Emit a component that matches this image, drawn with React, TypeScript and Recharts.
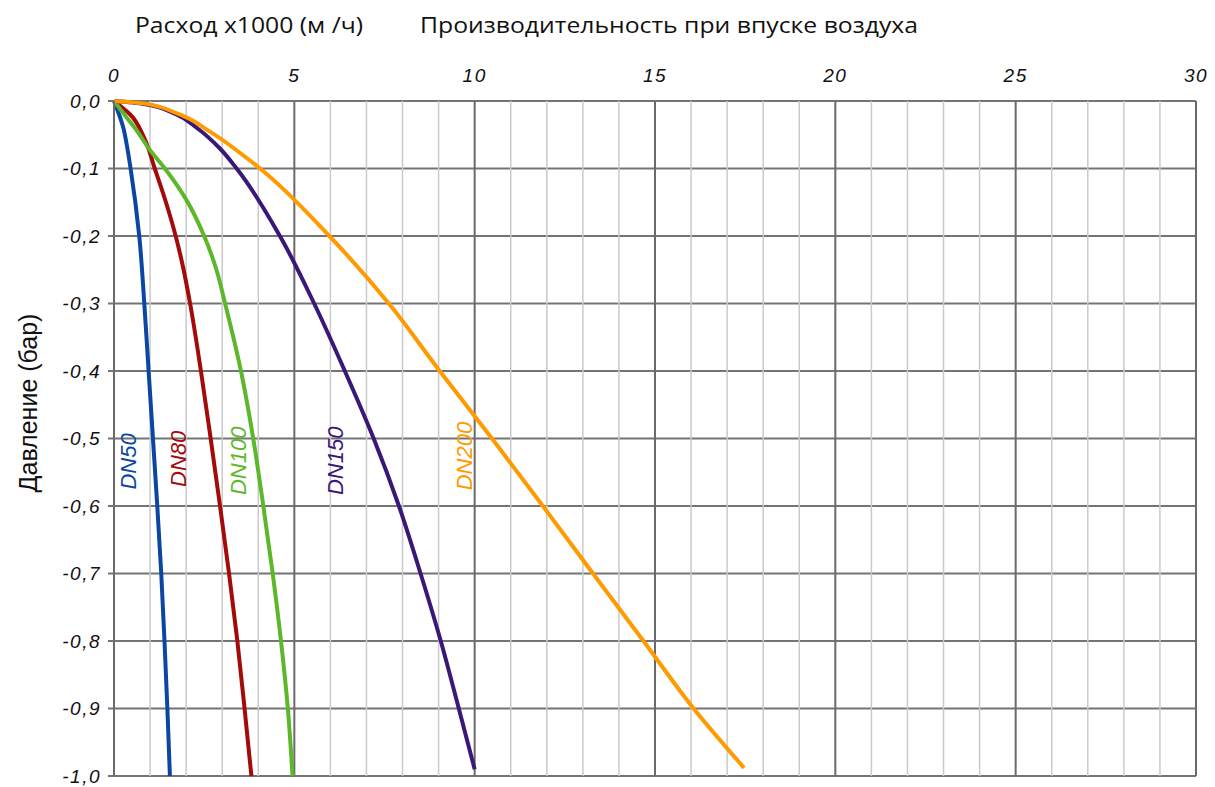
import React from "react";
import { LineChart, Line, XAxis, YAxis, CartesianGrid, ReferenceDot } from "recharts";

// flow x1000 (m3/h) vs pressure (bar) for each pipe size
const dn50 = [
  { q: 0, p: 0 }, { q: 0.26, p: -0.04 }, { q: 0.37, p: -0.07 }, { q: 0.46, p: -0.1 },
  { q: 0.7, p: -0.2 }, { q: 0.84, p: -0.3 }, { q: 0.96, p: -0.4 }, { q: 1.08, p: -0.5 },
  { q: 1.2, p: -0.6 }, { q: 1.31, p: -0.7 }, { q: 1.4, p: -0.8 }, { q: 1.48, p: -0.9 },
  { q: 1.55, p: -1.0 },
];
const dn80 = [
  { q: 0, p: 0 }, { q: 0.45, p: -0.02 }, { q: 0.84, p: -0.055 }, { q: 1.13, p: -0.1 },
  { q: 1.44, p: -0.15 }, { q: 1.71, p: -0.2 }, { q: 1.93, p: -0.25 }, { q: 2.11, p: -0.3 },
  { q: 2.41, p: -0.4 }, { q: 2.68, p: -0.5 }, { q: 2.94, p: -0.6 }, { q: 3.19, p: -0.7 },
  { q: 3.42, p: -0.8 }, { q: 3.62, p: -0.9 }, { q: 3.81, p: -1.0 },
];
const dn100 = [
  { q: 0, p: 0 }, { q: 0.3, p: -0.021 }, { q: 0.58, p: -0.04 }, { q: 1.0, p: -0.073 },
  { q: 1.41, p: -0.1 }, { q: 1.99, p: -0.145 }, { q: 2.5, p: -0.2 }, { q: 2.84, p: -0.25 },
  { q: 3.08, p: -0.3 }, { q: 3.52, p: -0.4 }, { q: 3.86, p: -0.5 }, { q: 4.14, p: -0.6 },
  { q: 4.4, p: -0.7 }, { q: 4.63, p: -0.8 }, { q: 4.82, p: -0.9 }, { q: 4.95, p: -1.0 },
];
const dn150 = [
  { q: 0, p: 0 }, { q: 0.8, p: -0.004 }, { q: 1.73, p: -0.02 }, { q: 2.3, p: -0.04 },
  { q: 2.93, p: -0.07 }, { q: 3.4, p: -0.1 }, { q: 4.6, p: -0.2 }, { q: 5.55, p: -0.3 },
  { q: 6.4, p: -0.4 }, { q: 7.2, p: -0.5 }, { q: 7.9, p: -0.6 }, { q: 8.5, p: -0.7 },
  { q: 9.06, p: -0.8 }, { q: 9.56, p: -0.9 }, { q: 10.0, p: -0.99 },
];
const dn200 = [
  { q: 0, p: 0 }, { q: 0.81, p: -0.0035 }, { q: 1.73, p: -0.018 }, { q: 2.65, p: -0.045 },
  { q: 3.57, p: -0.08 }, { q: 4.05, p: -0.1 }, { q: 5.97, p: -0.2 }, { q: 7.62, p: -0.3 },
  { q: 9.03, p: -0.4 }, { q: 10.48, p: -0.5 }, { q: 11.89, p: -0.6 }, { q: 13.28, p: -0.7 },
  { q: 14.68, p: -0.8 }, { q: 16.07, p: -0.9 }, { q: 17.47, p: -0.988 },
];

const xTicks = Array.from({ length: 31 }, (_, i) => i);
const yTicks = [0, -0.1, -0.2, -0.3, -0.4, -0.5, -0.6, -0.7, -0.8, -0.9, -1.0];

const series = [
  { name: "DN50", data: dn50, color: "#0b46a3", lx: 0.39, ly: -0.534 },
  { name: "DN80", data: dn80, color: "#a30b0b", lx: 1.8, ly: -0.53 },
  { name: "DN100", data: dn100, color: "#5cb82a", lx: 3.45, ly: -0.533 },
  { name: "DN150", data: dn150, color: "#3a1877", lx: 6.13, ly: -0.533 },
  { name: "DN200", data: dn200, color: "#ff9a00", lx: 9.72, ly: -0.526 },
];

const tickFont = {
  fontFamily: "Liberation Sans, Arial",
  fontStyle: "italic",
  fontSize: 19,
  letterSpacing: 1.5,
  fill: "#111",
};

const VLine = (props: any) => {
  const major = props.index % 5 === 0;
  return (
    <line
      key={props.key}
      x1={props.x1}
      y1={props.y1}
      x2={props.x2}
      y2={props.y2}
      stroke={major ? "#6a6a6a" : "#cacaca"}
      strokeWidth={major ? 2 : 1.5}
    />
  );
};

const labelShape = (name: string, color: string) => (props: any) => {
  const { cx, cy } = props;
  return (
    <text
      x={cx}
      y={cy}
      transform={`rotate(-90 ${cx} ${cy})`}
      textAnchor="middle"
      dominantBaseline="central"
      fill={color}
      fontFamily="Liberation Sans, Arial"
      fontStyle="italic"
      fontSize={22}
    >
      {name}
    </text>
  );
};

const titleStyle = { fontFamily: "Open Sans", fontSize: 21, fill: "#111" };

export default function App() {
  return (
    <div style={{ position: "absolute", left: 0, top: 0, width: 1215, height: 787, background: "#fff" }}>
      <svg width={1215} height={60} style={{ position: "absolute", left: 0, top: 0 }}>
        <text x={135} y={33} textLength={228} lengthAdjust="spacingAndGlyphs" {...titleStyle}>
          Расход х1000 (м /ч)
        </text>
        <text x={420} y={33} textLength={498} lengthAdjust="spacingAndGlyphs" {...titleStyle}>
          Производительность при впуске воздуха
        </text>
      </svg>
      <LineChart
        layout="vertical"
        width={1215}
        height={787}
        margin={{ top: 71, right: 19, bottom: 11, left: 0 }}
      >
        <CartesianGrid stroke="#747474" strokeWidth={2} vertical={VLine} />
        <XAxis
          type="number"
          orientation="top"
          domain={[0, 30]}
          ticks={xTicks}
          interval={0}
          tickFormatter={(v: number) => (v % 5 === 0 ? String(v) : "")}
          axisLine={false}
          tickLine={false}
          tick={tickFont}
          height={30}
          tickMargin={13}
        />
        <YAxis
          type="number"
          dataKey="p"
          domain={[-1, 0]}
          reversed
          ticks={yTicks}
          interval={0}
          tickFormatter={(v: number) => v.toFixed(1).replace(".", ",")}
          axisLine={{ stroke: "#6a6a6a", strokeWidth: 2 }}
          tickLine={{ stroke: "#747474", strokeWidth: 2 }}
          tickSize={6}
          tick={tickFont}
          width={114}
          tickMargin={7}
          label={{
            position: "insideLeft",
            content: () => (
              <text
                x={28}
                y={403}
                transform="rotate(-90 28 403)"
                textAnchor="middle"
                dominantBaseline="central"
                fontFamily="Liberation Sans, Arial"
                fontSize={25}
                fill="#111"
              >
                Давление (бар)
              </text>
            ),
          }}
        />
        {series.map((s) => (
          <Line
            key={s.name}
            data={s.data}
            dataKey="q"
            type="monotone"
            stroke={s.color}
            strokeWidth={4}
            dot={false}
            isAnimationActive={false}
          />
        ))}
        {series.map((s) => (
          <ReferenceDot key={"l" + s.name} x={s.lx} y={s.ly} r={0} shape={labelShape(s.name, s.color)} />
        ))}
      </LineChart>
    </div>
  );
}
